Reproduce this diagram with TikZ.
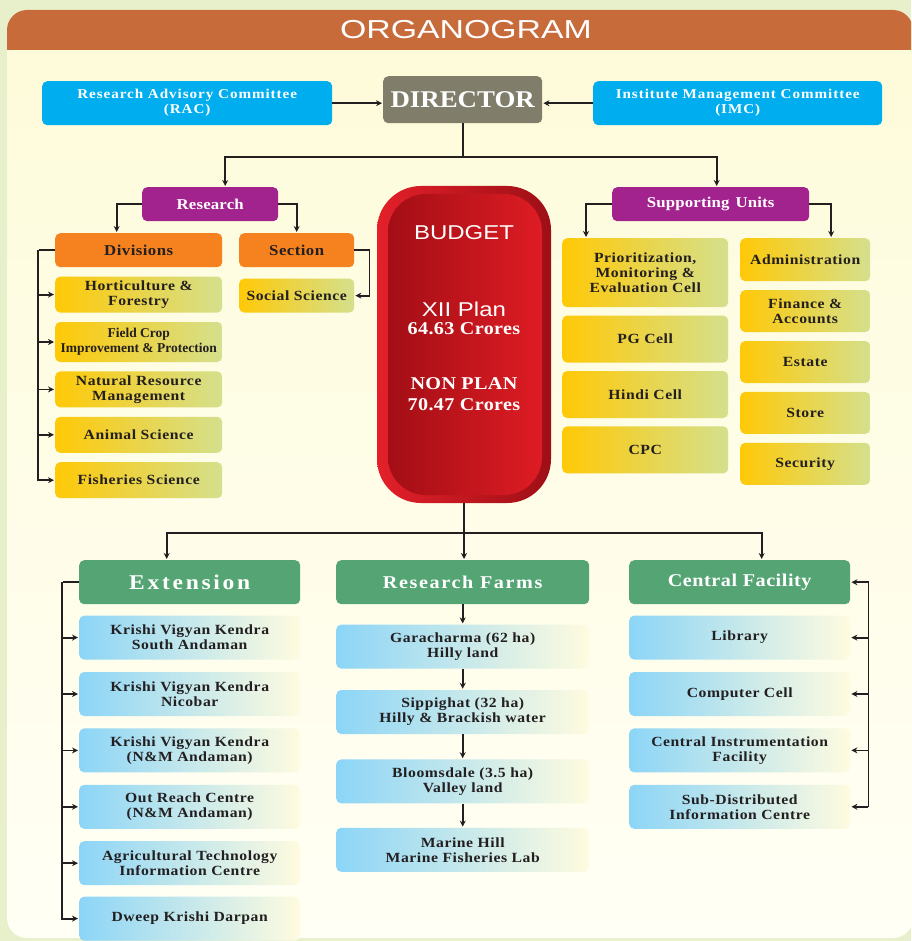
\documentclass[tikz,border=0pt]{standalone}
\usepackage{fontspec}
\setmainfont{Liberation Serif}
\newfontfamily\widefont[FakeStretch=1.12]{Liberation Serif}
\newfontfamily\budgetfont[FakeStretch=1.2]{Liberation Sans}
\newfontfamily\titlefont[FakeStretch=1.3]{Liberation Sans}
\usetikzlibrary{arrows.meta, positioning, calc}

\definecolor{bgout}{HTML}{E7F0CB}
\definecolor{panelTop}{HTML}{FEFBD9}
\definecolor{panelBot}{HTML}{FFFFF5}
\definecolor{headbrown}{HTML}{C86B3B}
\definecolor{racblue}{HTML}{00AEEF}
\definecolor{dirgray}{HTML}{807E6B}
\definecolor{resviolet}{HTML}{A3238E}
\definecolor{divorange}{HTML}{F5821F}
\definecolor{yelL}{HTML}{FFC907}
\definecolor{yelR}{HTML}{D4E08D}
\definecolor{farmgreen}{HTML}{55A574}
\definecolor{bluL}{HTML}{8CD5F7}
\definecolor{bluR}{HTML}{FFFBDF}
\definecolor{budgL}{HTML}{E3202A}
\definecolor{budgR}{HTML}{9E0F16}
\definecolor{innerL}{HTML}{A30E15}
\definecolor{innerR}{HTML}{DE1C24}
\definecolor{inkdark}{HTML}{231F20}

\newcommand{\boxfnt}{\widefont\fontsize{14}{15}\selectfont\bfseries\addfontfeature{LetterSpace=4}}
\newcommand{\topfnt}{\widefont\fontsize{13.5}{15}\selectfont\bfseries\addfontfeature{LetterSpace=7}}
\newcommand{\headfnt}[2]{\widefont\fontsize{#1}{#1}\selectfont\bfseries\addfontfeature{LetterSpace=#2}}

\begin{document}
\begin{tikzpicture}[x=1pt, y=-1pt, >={Stealth[length=6pt, width=6pt]}, shorten >=1pt,
  box/.style={rounded corners=5pt, align=center, inner sep=1pt, text=inkdark, font=\boxfnt},
  cyanbox/.style={box, fill=racblue, text=white, font=\topfnt, minimum width=290pt, minimum height=44pt, anchor=north west},
  dirbox/.style={box, fill=dirgray, text=white, font=\headfnt{24}{0}, minimum width=159pt, minimum height=47pt, anchor=north west},
  unitbox/.style={box, fill=resviolet, text=white, font=\headfnt{15}{1}, minimum height=34pt, anchor=north west},
  groupbox/.style={box, fill=divorange, font=\headfnt{15}{3}, minimum height=34pt, anchor=north west},
  yelbox/.style={box, left color=yelL, right color=yelR},
  divcol/.style={minimum width=167pt, minimum height=36pt},
  cellcol/.style={minimum width=166pt, minimum height=47pt},
  admcol/.style={minimum width=130pt, minimum height=42pt},
  greenbox/.style={box, fill=farmgreen, text=white, minimum height=44pt, anchor=north west},
  bluebox/.style={box, left color=bluL, right color=bluR, minimum height=44pt},
  budgetouter/.style={rounded corners=44pt, minimum width=174pt, minimum height=317pt, left color=budgL, right color=budgR, inner sep=0pt},
  budgetinner/.style={rounded corners=38pt, minimum width=154pt, minimum height=301pt, left color=innerL, right color=innerR, inner sep=0pt},
  budgettext/.style={text=white, inner sep=0pt},
  conn/.style={draw=inkdark, line width=1.8pt}]

  \useasboundingbox (0,0) rectangle (911,941);

  % background and title band
  \fill[bgout] (0,0) rectangle (911,941);
  \shade[top color=panelTop, bottom color=panelBot, rounded corners=20pt] (7,10) rectangle (913,938);
  \begin{scope}
    \clip (0,0) rectangle (911,50);
    \fill[headbrown, rounded corners=20pt] (7,10) rectangle (913,90);
  \end{scope}
  \node[text=white, font=\titlefont\fontsize{26}{26}\selectfont] (title) at (466,30) {ORGANOGRAM};

  % top row
  \node[cyanbox]                   (rac) at (42,81)  {Research Advisory Committee\\(RAC)};
  \node[dirbox]                    (dir) at (383,76) {DIRECTOR};
  \node[cyanbox, minimum width=289pt] (imc) at (593,81) {Institute Management Committee\\(IMC)};

  % research side
  \node[unitbox, minimum width=136pt]  (research) at (142,187) {Research};
  \node[groupbox, minimum width=167pt] (div)      at (55,233)  {Divisions};
  \node[groupbox, minimum width=115pt] (sect)     at (239,233) {Section};
  \node[yelbox, divcol] (hort) [below=9pt of div]  {Horticulture \&\\Forestry};
  \node[yelbox, divcol, minimum height=40pt, font={\fontsize{13.5}{15}\selectfont\bfseries}]
                        (fcip) [below=9pt of hort] {Field Crop\\Improvement \& Protection};
  \node[yelbox, divcol] (nrm)  [below=9pt of fcip] {Natural Resource\\Management};
  \node[yelbox, divcol] (anim) [below=9pt of nrm]  {Animal Science};
  \node[yelbox, divcol] (fish) [below=9pt of anim] {Fisheries Science};
  \node[yelbox, minimum width=115pt, minimum height=34pt] (soc) [below=11pt of sect] {Social Science};

  % supporting units
  \node[unitbox, minimum width=197pt] (support) at (612,187) {Supporting\hspace{6pt}Units};
  \node[yelbox, cellcol, minimum height=69pt, anchor=north west] (pmec) at (562,238) {Prioritization,\\Monitoring \&\\Evaluation Cell};
  \node[yelbox, cellcol] (pg)    [below=8pt of pmec] {PG Cell};
  \node[yelbox, cellcol] (hindi) [below=8pt of pg]   {Hindi Cell};
  \node[yelbox, cellcol] (cpc)   [below=8pt of hindi] {CPC};
  \node[yelbox, admcol, minimum height=43pt, anchor=north west] (admin) at (740,238) {Administration};
  \node[yelbox, admcol] (fin)    [below=8.5pt of admin]  {Finance \&\\Accounts};
  \node[yelbox, admcol] (estate) [below=8.5pt of fin]    {Estate};
  \node[yelbox, admcol] (store)  [below=8.5pt of estate] {Store};
  \node[yelbox, admcol] (secur)  [below=8.5pt of store]  {Security};

  % budget
  \node[budgetouter] (budget)   at (464,344.5) {};
  \node[budgetinner] (budgetin) at (465,344.5) {};
  \node[budgettext, font=\budgetfont\fontsize{20}{20}\selectfont] (budgettitle) at (464,233) {BUDGET};
  \node[budgettext, font=\budgetfont\fontsize{20}{20}\selectfont] (plan)        at (464,309) {XII Plan};
  \node[budgettext, font=\headfnt{18}{2}]                         (plancr)      at (464,329) {64.63 Crores};
  \node[budgettext, font=\headfnt{18}{2}]                         (nonplan)     at (464,384) {NON PLAN};
  \node[budgettext, font=\headfnt{18}{2}]                         (nonplancr)   at (464,405) {70.47 Crores};

  % bottom groups
  \node[greenbox, minimum width=221pt, font=\headfnt{21}{13}] (ext)   at (79,560)  {Extension};
  \node[greenbox, minimum width=253pt, font=\headfnt{18}{9}]  (farms) at (336,560) {Research Farms};
  \node[greenbox, minimum width=221pt, font=\headfnt{18}{3}]  (cent)  at (629,560) {Central Facility};

  \node[bluebox, minimum width=221pt] (kvksa) [below=11pt of ext]   {Krishi Vigyan Kendra\\South Andaman};
  \node[bluebox, minimum width=221pt] (kvkn)  [below=12pt of kvksa] {Krishi Vigyan Kendra\\Nicobar};
  \node[bluebox, minimum width=221pt] (kvknm) [below=12pt of kvkn]  {Krishi Vigyan Kendra\\(N\&M Andaman)};
  \node[bluebox, minimum width=221pt] (orc)   [below=12pt of kvknm] {Out Reach Centre\\(N\&M Andaman)};
  \node[bluebox, minimum width=221pt] (atic)  [below=12pt of orc]   {Agricultural Technology\\Information Centre};
  \node[bluebox, minimum width=221pt] (dkd)   [below=11pt of atic]  {Dweep Krishi Darpan};

  \node[bluebox, minimum width=253pt] (gara)   [below=20pt of farms] {Garacharma (62 ha)\\Hilly land};
  \node[bluebox, minimum width=253pt] (sipp)   [below=21pt of gara]  {Sippighat (32 ha)\\Hilly \& Brackish water};
  \node[bluebox, minimum width=253pt] (bloom)  [below=25pt of sipp]  {Bloomsdale (3.5 ha)\\Valley land};
  \node[bluebox, minimum width=253pt] (marine) [below=24pt of bloom] {Marine Hill\\Marine Fisheries Lab};

  \node[bluebox, minimum width=221pt] (lib)  [below=11pt of cent] {Library};
  \node[bluebox, minimum width=221pt] (comp) [below=12pt of lib]  {Computer Cell};
  \node[bluebox, minimum width=221pt] (cif)  [below=12pt of comp] {Central Instrumentation\\Facility};
  \node[bluebox, minimum width=221pt] (sdic) [below=12pt of cif]  {Sub-Distributed\\Information Centre};

  % connectors
  \draw[conn,->] (rac.east) -- (rac.east -| dir.west);
  \draw[conn,->] (imc.west) -- (imc.west -| dir.east);
  \draw[conn,->] (dir.south) -- ++(0,34) -| ([xshift=15pt]research.north);
  \draw[conn,->] (dir.south) -- ++(0,34) -| ([xshift=6pt]support.north);

  \draw[conn,->] (research.west) -| ([xshift=-22pt]div.north);
  \draw[conn,->] (research.east) -| (sect.north);
  \draw[conn] (div.west) -- ([xshift=-17pt]div.west);
  \foreach \n in {hort,fcip,nrm,anim,fish}
    \draw[conn,->] ([xshift=-17pt]div.west) |- (\n.west);
  \draw[conn,->] (sect.east) -- ++(15,0) |- (soc.east);

  \draw[conn,->] (support.west) -| ([xshift=24pt]pmec.north west);
  \draw[conn,->] (support.east) -| ([xshift=26pt]admin.north);

  \draw[conn,->] (budget.south) -- ++(0,30) -| ([xshift=-23pt]ext.north);
  \draw[conn,->] (budget.south) -- (budget.south |- farms.north);
  \draw[conn,->] (budget.south) -- ++(0,30) -| ([xshift=22pt]cent.north);

  \draw[conn] (ext.west) -- ([xshift=-17pt]ext.west);
  \foreach \n in {kvksa,kvkn,kvknm,orc,atic,dkd}
    \draw[conn,->] ([xshift=-17pt]ext.west) |- (\n.west);

  \draw[conn,->] (farms) -- (gara);
  \draw[conn,->] (gara)  -- (sipp);
  \draw[conn,->] (sipp)  -- (bloom);
  \draw[conn,->] (bloom) -- (marine);

  \foreach \n in {cent,lib,comp,cif,sdic}
    \draw[conn,->] ([xshift=18pt]sdic.east) |- (\n.east);
\end{tikzpicture}
\end{document}
